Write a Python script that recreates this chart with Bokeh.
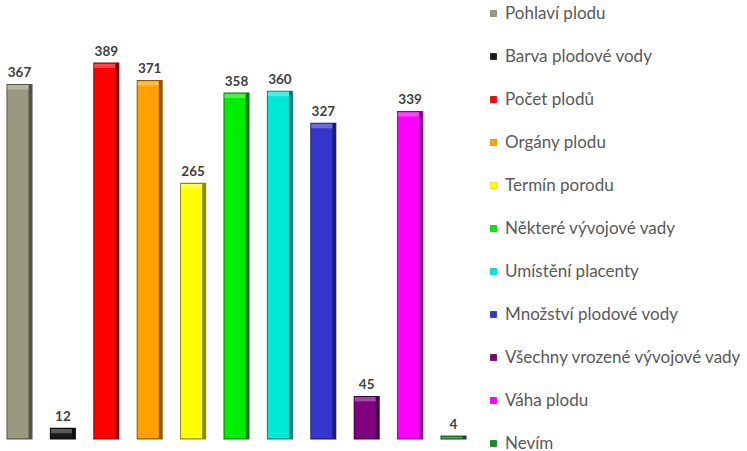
import numpy as np
from bokeh.plotting import figure
from bokeh.models import ColumnDataSource, Legend, LegendItem, Range1d
from bokeh.core.properties import value
from bokeh.embed import file_html
from bokeh.resources import INLINE

categories = ["Pohlaví plodu", "Barva plodové vody", "Počet plodů", "Orgány plodu",
              "Termín porodu", "Některé vývojové vady", "Umístění placenty",
              "Množství plodové vody", "Všechny vrozené vývojové vady", "Váha plodu", "Nevím"]
counts = [367, 12, 389, 371, 265, 358, 360, 327, 45, 339, 4]
colors = ["#999980", "#1a1a1a", "#FF0000", "#FFA200", "#FFFF00", "#00EE00",
          "#00E8D8", "#3535CC", "#800080", "#FF00FF", "#14901E"]


def shade(hexc, f):
    r, g, b = (int(hexc[i:i + 2], 16) for i in (1, 3, 5))
    if f < 1:
        r, g, b = (int(c * f) for c in (r, g, b))
    else:
        t = f - 1
        r, g, b = (int(c + (255 - c) * t) for c in (r, g, b))
    return "#%02x%02x%02x" % (r, g, b)


idx = np.arange(len(categories))
vals = np.array(counts, dtype=float)
PXU = 0.969      # pixels per value unit (style: scale of y range)
SLOT = 43.4      # pixels per category slot
BW = 0.6

dark = [shade(c, 0.55) for c in colors]
light = [shade(c, 1.35) for c in colors]

src = ColumnDataSource(dict(
    x=idx, top=vals, color=colors, dark=dark, light=light,
    label=[str(v) for v in counts],
    xm=idx - 1.5 / SLOT,
    mtop=np.maximum(vals - 1.2 / PXU, 1.2 / PXU),
    ltop=np.maximum(vals - 1.2 / PXU, 1.2 / PXU),
    lbot=np.maximum(vals - 5.5 / PXU, 1.2 / PXU),
))

p = figure(width=747, height=451, output_backend="svg", toolbar_location=None,
           x_range=Range1d(-19 / SLOT, (747 - 19) / SLOT),
           y_range=Range1d(-12 / PXU, (451 - 12) / PXU),
           x_axis_location=None, y_axis_location=None,
           min_border=0, outline_line_color=None)
p.grid.visible = False
p.styles = {"position": "absolute", "left": "0px", "top": "0px"}

r_dark = p.vbar(x="x", top="top", bottom=0, width=BW, source=src,
                fill_color="dark", line_color=None)
r_main = p.vbar(x="xm", top="mtop", bottom=1.2 / PXU, width=BW - 5 / SLOT, source=src,
                fill_color="color", line_color=None)
p.vbar(x="xm", top="ltop", bottom="lbot", width=BW - 5 / SLOT, source=src,
       fill_color="light", line_color=None, fill_alpha=0.8)

p.text(x="x", y="top", text="label", source=src, text_align="center",
       text_baseline="alphabetic", y_offset=-12, text_font=value("Lato"),
       text_font_style="bold", text_font_size="13.5px", text_color="#404040")

items = [LegendItem(label=categories[i], renderers=[r_dark, r_main], index=i)
         for i in range(len(categories))]
legend = Legend(items=items, location=(489, -2), glyph_width=8, glyph_height=8,
                label_standoff=8, label_height=21, spacing=22, padding=0, margin=0,
                border_line_color=None, background_fill_alpha=0,
                label_text_font="Lato", label_text_font_size="17px",
                label_text_color="#595959", label_text_baseline="middle")
p.add_layout(legend, "center")

open("out.html", "w").write(file_html(p, INLINE))
